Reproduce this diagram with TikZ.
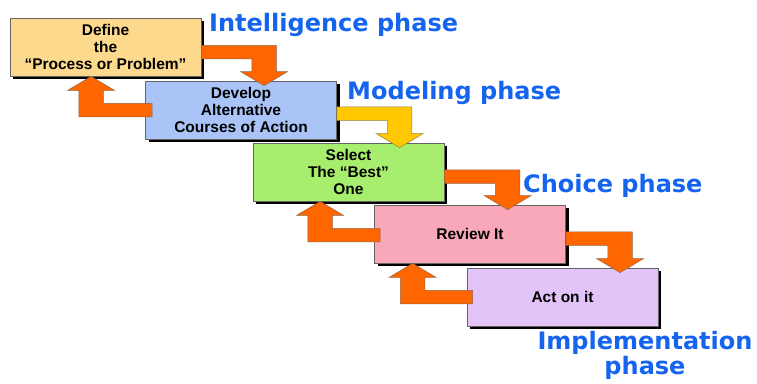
\documentclass[tikz,border=0pt]{standalone}
\usepackage{fontspec}
\usetikzlibrary{calc,shadows}
\newfontfamily\boxfont{Liberation Sans}
\newfontfamily\phasefont{DejaVu Sans}
\definecolor{cDefine}{RGB}{252,217,140}
\definecolor{cDevelop}{RGB}{170,196,248}
\definecolor{cSelect}{RGB}{168,238,110}
\definecolor{cReview}{RGB}{248,168,184}
\definecolor{cAct}{RGB}{226,196,248}
\definecolor{cOrange}{RGB}{255,102,0}
\definecolor{cGold}{RGB}{255,200,0}
\definecolor{cPhase}{RGB}{20,100,240}
\definecolor{cEdge}{RGB}{100,100,100}
\tikzset{
  stepbox/.style={draw=cEdge, line width=0.8pt, minimum width=191pt, minimum height=58pt,
    inner sep=2pt, align=center,
    font=\boxfont\bfseries\fontsize{15.5}{17}\selectfont,
    general shadow={fill=black, shadow xshift=3pt, shadow yshift=-3pt}},
  phaselabel/.style={text=cPhase, inner sep=0pt, align=center,
    font=\phasefont\bfseries\fontsize{24}{22.5}\selectfont},
  blockarrow/.style={fill=cOrange, draw=cEdge!70!cOrange, line width=0.5pt, line join=miter},
  goldarrow/.style={blockarrow, fill=cGold, draw=cEdge!70!cGold}
}
% forward bent arrow: #1 style, #2 start (on east side), #3 tip (on next box top)
\newcommand\fwdarrow[3]{%
  \path[#1] let \p1=#2, \p2=#3 in
    (\x1,\y1+6.75pt) -- (\x2+12.25pt,\y1+6.75pt) -- (\x2+12.25pt,\y2+14pt)
    -- (\x2+23.5pt,\y2+14pt) -- (\x2,\y2) -- (\x2-23.5pt,\y2+14pt)
    -- (\x2-12.25pt,\y2+14pt) -- (\x2-12.25pt,\y1-6.75pt) -- (\x1,\y1-6.75pt) -- cycle;}
% backward bent arrow: #1 style, #2 start (inside west side), #3 tip (on previous box bottom)
\newcommand\bckarrow[3]{%
  \path[#1] let \p1=#2, \p2=#3 in
    (\x1,\y1+6.75pt) -- (\x2+12.25pt,\y1+6.75pt) -- (\x2+12.25pt,\y2-14pt)
    -- (\x2+23.5pt,\y2-14pt) -- (\x2,\y2) -- (\x2-23.5pt,\y2-14pt)
    -- (\x2-12.25pt,\y2-14pt) -- (\x2-12.25pt,\y1-6.75pt) -- (\x1,\y1-6.75pt) -- cycle;}
\begin{document}
\begin{tikzpicture}
\useasboundingbox (0pt,0pt) rectangle (757pt,-383pt);
% boxes
\node[stepbox, fill=cDefine]  (b1) at (105.5pt,-47pt)  {Define\\the\\“Process or Problem”};
\node[stepbox, fill=cDevelop] (b2) at (241pt,-110pt)   {Develop\\Alternative\\Courses of Action};
\node[stepbox, fill=cSelect]  (b3) at (348.5pt,-172pt) {Select\\The “Best”\\One};
\node[stepbox, fill=cReview]  (b4) at (470pt,-234pt)   {Review It};
\node[stepbox, fill=cAct]     (b5) at (562.5pt,-297pt) {Act on it};
% forward arrows
\fwdarrow{blockarrow}{($(b1.east)+(0pt,-5pt)$)}{($(b2.north west)+(119pt,-5pt)$)}
\fwdarrow{goldarrow}{($(b2.east)+(0pt,-3.5pt)$)}{($(b3.north west)+(147pt,-5pt)$)}
\fwdarrow{blockarrow}{($(b3.east)+(0pt,-4.5pt)$)}{($(b4.north west)+(133.5pt,-5pt)$)}
\fwdarrow{blockarrow}{($(b4.east)+(0pt,-4.5pt)$)}{($(b5.north west)+(153.5pt,-5pt)$)}
% backward arrows
\bckarrow{blockarrow}{($(b2.west)+(7pt,0pt)$)}{($(b1.south west)+(81.5pt,0pt)$)}
\bckarrow{blockarrow}{($(b4.west)+(6pt,-1pt)$)}{($(b3.south west)+(67.5pt,0pt)$)}
\bckarrow{blockarrow}{($(b5.west)+(6pt,0pt)$)}{($(b4.south west)+(38.5pt,0pt)$)}
% phase labels
\node[phaselabel, anchor=base west] (p1) at (209pt,-31.7pt) {Intelligence phase};
\node[phaselabel, anchor=base west] (p2) at (347pt,-99.7pt) {Modeling phase};
\node[phaselabel, anchor=base west] (p3) at (523pt,-192.7pt) {Choice phase};
\node[phaselabel, anchor=base] (p4) at (645pt,-374pt) {Implementation\\phase};
\end{tikzpicture}
\end{document}
